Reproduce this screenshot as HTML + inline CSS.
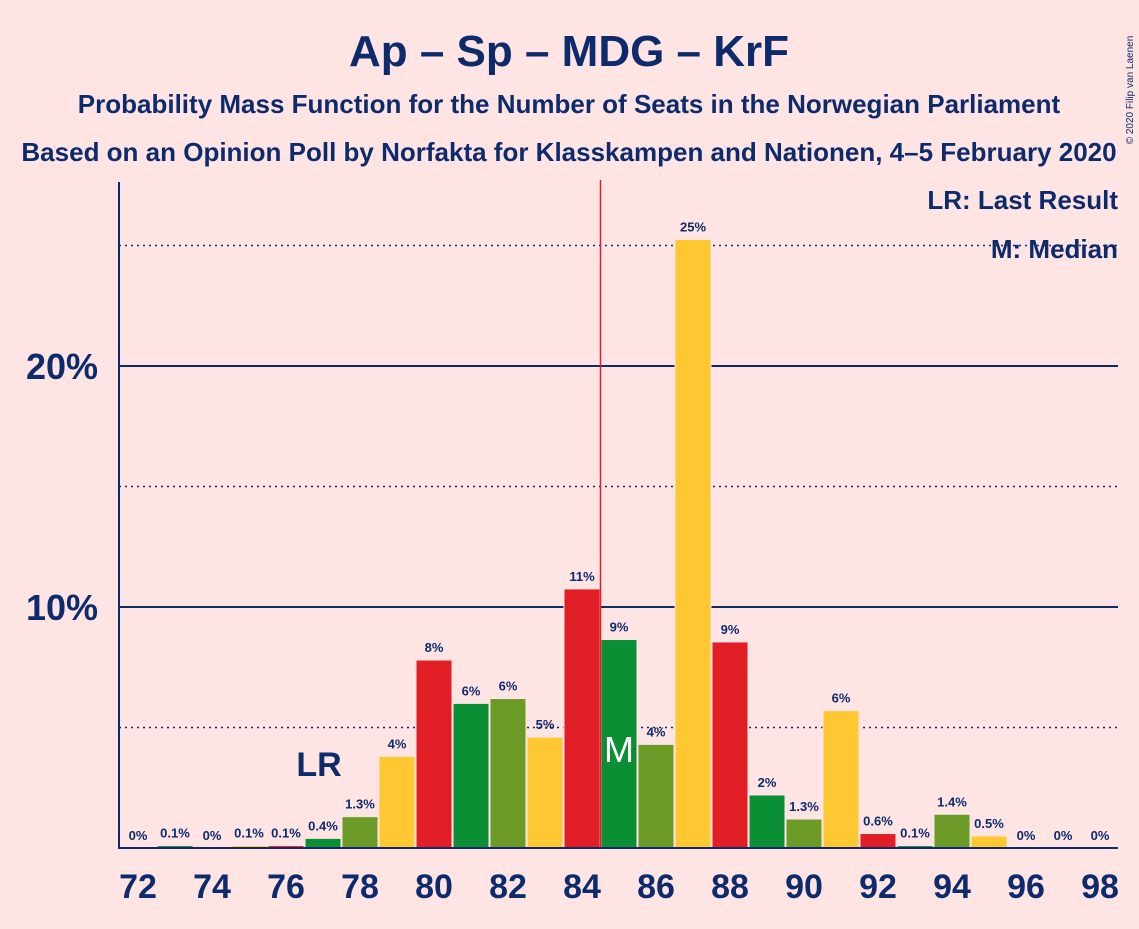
<!DOCTYPE html>
<html><head><meta charset="utf-8"><style>
body{margin:0;background:#ffe4e4;font-family:"Liberation Sans",sans-serif}
svg text{font-family:"Liberation Sans",sans-serif;fill:#0d2a6b}
</style></head><body>
<svg width="1139" height="924">
<rect width="1139" height="924" fill="#ffe4e4"/>
<text x="569" y="66" font-size="44" font-weight="bold" text-anchor="middle">Ap – Sp – MDG – KrF</text>
<text x="569" y="113" font-size="26" font-weight="bold" text-anchor="middle">Probability Mass Function for the Number of Seats in the Norwegian Parliament</text>
<text x="569" y="161" font-size="26" font-weight="bold" text-anchor="middle">Based on an Opinion Poll by Norfakta for Klasskampen and Nationen, 4–5 February 2020</text>
<text x="1133" y="90" font-size="10" transform="rotate(-90 1133 90)" text-anchor="middle">© 2020 Filip van Laenen</text>
<g id="grid"></g><g id="bars"></g>
<text x="1118" y="209" font-size="26" font-weight="bold" text-anchor="end">LR: Last Result</text>
<text x="1118" y="258" font-size="26" font-weight="bold" text-anchor="end">M: Median</text>
</svg>
<script>
const seats=[72,73,74,75,76,77,78,79,80,81,82,83,84,85,86,87,88,89,90,91,92,93,94,95,96,97,98];
const values=[0,0.1,0,0.1,0.1,0.4,1.3,3.8,7.8,6.0,6.2,4.6,10.75,8.65,4.3,25.25,8.55,2.2,1.2,5.7,0.6,0.1,1.4,0.5,0,0,0];
const labels=["0%","0.1%","0%","0.1%","0.1%","0.4%","1.3%","4%","8%","6%","6%","5%","11%","9%","4%","25%","9%","2%","1.3%","6%","0.6%","0.1%","1.4%","0.5%","0%","0%","0%"];
const yTicks=[10,20];
const dotted=[5,15,25];
const lastResult=77, median=85;
const colors=["#e11d25","#0a8f35","#6b9a27","#ffc832"];
const NS="http://www.w3.org/2000/svg";
const x=s=>138+(s-72)*37, y=v=>848-v*24.1;
function mk(t,a,p){const e=document.createElementNS(NS,t);for(const k in a)e.setAttribute(k,a[k]);p.appendChild(e);return e;}
const g=document.getElementById('grid'), b=document.getElementById('bars');
dotted.forEach(v=>{const l=mk('line',{x1:119,x2:1118,y1:y(v),y2:y(v),stroke:'#0d2a6b','stroke-width':1.5,'stroke-dasharray':'2,4'},g);

});
yTicks.forEach(v=>{const l=mk('line',{x1:119,x2:1118,y1:y(v),y2:y(v),stroke:'#0d2a6b','stroke-width':2},g);


const t=mk('text',{x:98,y:y(v)+13,'font-size':36,'font-weight':'bold','text-anchor':'end'},g);t.textContent=v+'%';

});
seats.forEach((s,i)=>{const v=values[i];
if(v>0){const r=mk('rect',{x:x(s)-18,y:y(v),width:36,height:848-y(v),fill:colors[s%4],stroke:'#ffe4e4','stroke-width':1},b);

}
const t=mk('text',{x:x(s),y:y(v)-8,'font-size':13,'font-weight':'bold','text-anchor':'middle'},b);t.textContent=labels[i];


if(s%2==0){const tl=mk('text',{x:x(s),y:898,'font-size':34,'font-weight':'bold','text-anchor':'middle'},b);tl.textContent=s;

}});
const ml=mk('line',{x1:x(median)-18.5,x2:x(median)-18.5,y1:180,y2:848,stroke:'#e11d25','stroke-width':1.5},b);


const mt=mk('text',{x:x(median),y:762,'font-size':36,'text-anchor':'middle',style:'fill:#fff'},b);mt.textContent='M';


const lr=mk('text',{x:x(lastResult)-4,y:776,'font-size':34,'font-weight':'bold','text-anchor':'middle'},b);lr.textContent='LR';


const ax=mk('line',{x1:119,x2:119,y1:182,y2:849,stroke:'#0d2a6b','stroke-width':2},b);


const bx=mk('line',{x1:118,x2:1118,y1:848,y2:848,stroke:'#0d2a6b','stroke-width':2},b);


</script>
</body></html>
